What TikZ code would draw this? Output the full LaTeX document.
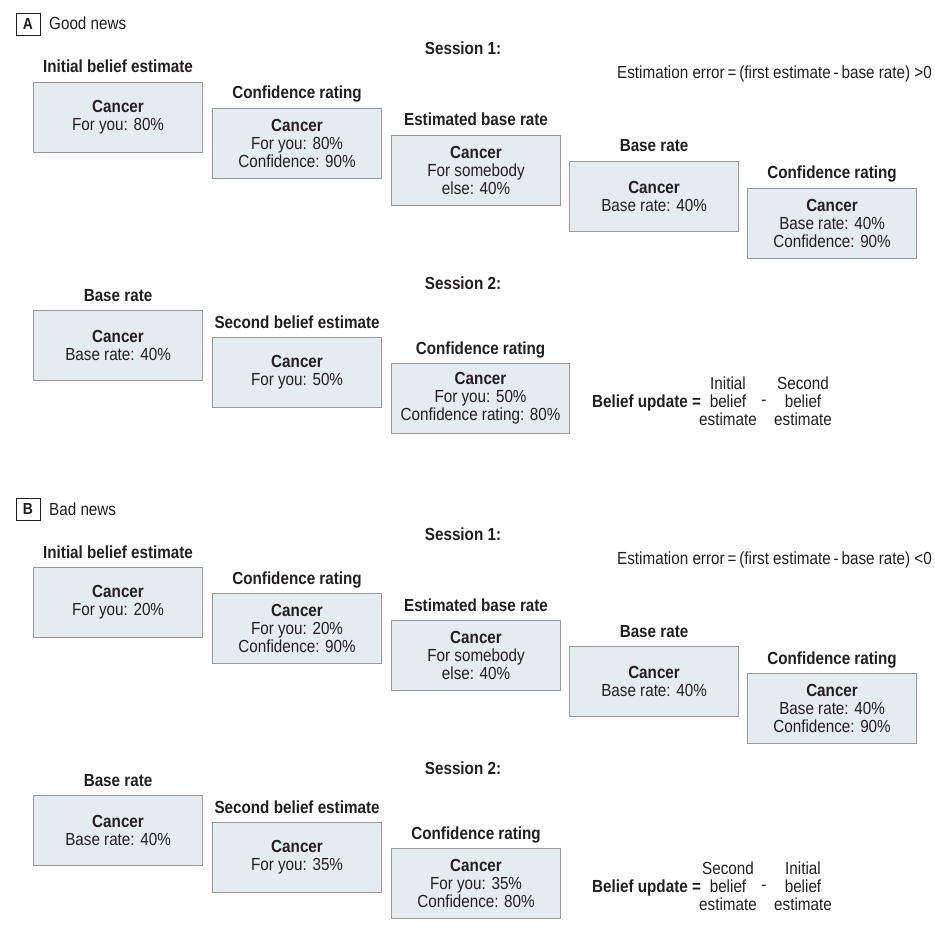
\documentclass[tikz,border=0pt]{standalone}
\usepackage{fontspec}
\setmainfont{Liberation Sans}[FakeStretch=0.87]
\definecolor{boxfill}{HTML}{E5ECF0}
\definecolor{boxline}{HTML}{9A9A9A}
\definecolor{ink}{HTML}{231F20}
\begin{document}
\begin{tikzpicture}[x=1pt,y=-1pt,
  every node/.style={text=ink},
  txt/.style={font=\fontsize{17.5}{18}\selectfont, inner sep=0},
  hd/.style={font=\fontsize{17.5}{18}\selectfont\bfseries, inner sep=0},
  card/.style={draw=boxline, fill=boxfill, line width=1.1pt, minimum width=169pt,
    minimum height=70pt, inner sep=0, align=center, anchor=north west,
    font=\fontsize{17.5}{18}\selectfont},
  wide/.style={minimum width=178pt},
  tag/.style={draw=ink, line width=0.9pt, minimum width=24pt, minimum height=22pt,
    inner sep=0, font=\fontsize{16}{17}\selectfont\bfseries},
  lbl/.style={hd, anchor=base}
]
\useasboundingbox (0,0) rectangle (934,941);

% ---------------- Panel A ----------------
\node[tag] (Atag) at (28,24) {A};
\node[txt, anchor=base west] (Atitle) at (49,30) {Good news};
\node[lbl] (As1) at (463,55) {Session 1:};
\node[txt, anchor=base east] (Aerr) at (932,79) {Estimation error\,=\,(first estimate\,-\,base rate) >0};

\node[card] (a1) at (33,82) {\textbf{Cancer}\\For you: 80\%};
\node[lbl] (a1t) at ([yshift=9pt]a1.north) {Initial belief estimate};
\node[card] (a2) at (212,108) {\textbf{Cancer}\\For you: 80\%\\Confidence: 90\%};
\node[lbl] (a2t) at ([yshift=9pt]a2.north) {Confidence rating};
\node[card] (a3) at (391,135) {\textbf{Cancer}\\For somebody\\else: 40\%};
\node[lbl] (a3t) at ([yshift=9pt]a3.north) {Estimated base rate};
\node[card] (a4) at (569,161) {\textbf{Cancer}\\Base rate: 40\%};
\node[lbl] (a4t) at ([yshift=9pt]a4.north) {Base rate};
\node[card] (a5) at (747,188) {\textbf{Cancer}\\Base rate: 40\%\\Confidence: 90\%};
\node[lbl] (a5t) at ([yshift=9pt]a5.north) {Confidence rating};

\node[lbl] (As2) at (463,289) {Session 2:};
\node[card] (a6) at (33,310) {\textbf{Cancer}\\Base rate: 40\%};
\node[lbl] (a6t) at ([yshift=9pt]a6.north) {Base rate};
\node[card] (a7) at (212,337) {\textbf{Cancer}\\For you: 50\%};
\node[lbl] (a7t) at ([yshift=9pt]a7.north) {Second belief estimate};
\node[card, wide] (a8) at (391,363) {\textbf{Cancer}\\For you: 50\%\\Confidence rating: 80\%};
\node[lbl] (a8t) at ([yshift=9pt]a8.north) {Confidence rating};

\node[hd, anchor=base west] (abu) at (592,407) {Belief update =};
\node[txt, anchor=base] (al1) at (728,389) {Initial};
\node[txt, anchor=base] (al2) at (728,407) {belief};
\node[txt, anchor=base] (al3) at (728,425) {estimate};
\node[txt, anchor=base] (amin) at (764,405) {-};
\node[txt, anchor=base] (ar1) at (803,389) {Second};
\node[txt, anchor=base] (ar2) at (803,407) {belief};
\node[txt, anchor=base] (ar3) at (803,425) {estimate};

% ---------------- Panel B ----------------
\begin{scope}[shift={(0,485)}]
\node[tag] (Btag) at (28,24) {B};
\node[txt, anchor=base west] (Btitle) at (49,30) {Bad news};
\node[lbl] (Bs1) at (463,55) {Session 1:};
\node[txt, anchor=base east] (Berr) at (932,79) {Estimation error\,=\,(first estimate\,-\,base rate) <0};

\node[card] (b1) at (33,82) {\textbf{Cancer}\\For you: 20\%};
\node[lbl] (b1t) at ([yshift=9pt]b1.north) {Initial belief estimate};
\node[card] (b2) at (212,108) {\textbf{Cancer}\\For you: 20\%\\Confidence: 90\%};
\node[lbl] (b2t) at ([yshift=9pt]b2.north) {Confidence rating};
\node[card] (b3) at (391,135) {\textbf{Cancer}\\For somebody\\else: 40\%};
\node[lbl] (b3t) at ([yshift=9pt]b3.north) {Estimated base rate};
\node[card] (b4) at (569,161) {\textbf{Cancer}\\Base rate: 40\%};
\node[lbl] (b4t) at ([yshift=9pt]b4.north) {Base rate};
\node[card] (b5) at (747,188) {\textbf{Cancer}\\Base rate: 40\%\\Confidence: 90\%};
\node[lbl] (b5t) at ([yshift=9pt]b5.north) {Confidence rating};

\node[lbl] (Bs2) at (463,289) {Session 2:};
\node[card] (b6) at (33,310) {\textbf{Cancer}\\Base rate: 40\%};
\node[lbl] (b6t) at ([yshift=9pt]b6.north) {Base rate};
\node[card] (b7) at (212,337) {\textbf{Cancer}\\For you: 35\%};
\node[lbl] (b7t) at ([yshift=9pt]b7.north) {Second belief estimate};
\node[card] (b8) at (391,363) {\textbf{Cancer}\\For you: 35\%\\Confidence: 80\%};
\node[lbl] (b8t) at ([yshift=9pt]b8.north) {Confidence rating};

\node[hd, anchor=base west] (bbu) at (592,407) {Belief update =};
\node[txt, anchor=base] (bl1) at (728,389) {Second};
\node[txt, anchor=base] (bl2) at (728,407) {belief};
\node[txt, anchor=base] (bl3) at (728,425) {estimate};
\node[txt, anchor=base] (bmin) at (764,405) {-};
\node[txt, anchor=base] (br1) at (803,389) {Initial};
\node[txt, anchor=base] (br2) at (803,407) {belief};
\node[txt, anchor=base] (br3) at (803,425) {estimate};
\end{scope}
\end{tikzpicture}
\end{document}
